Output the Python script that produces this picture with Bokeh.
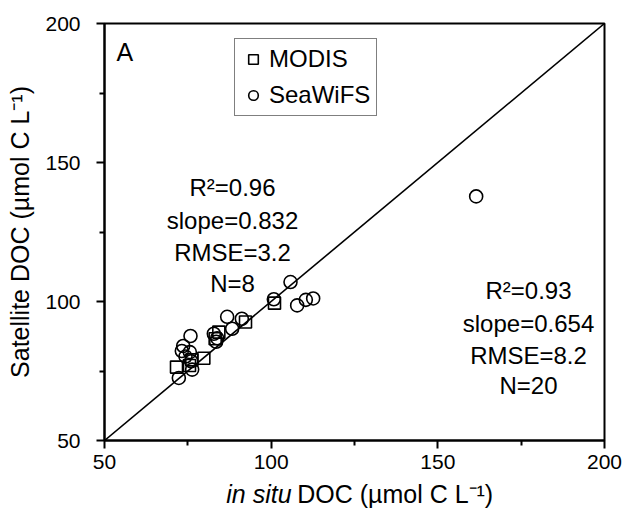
from bokeh.plotting import figure
from bokeh.layouts import column
from bokeh.models import FixedTicker, Label, Legend, LegendItem, Range1d
from bokeh.embed import file_html
from bokeh.resources import INLINE

# In situ vs satellite-derived DOC (umol C L-1)
modis_insitu = [71.6, 75.5, 76.2, 79.8, 83.2, 84.3, 92.3, 101.0]
modis_sat = [76.4, 77.0, 79.0, 79.6, 86.6, 89.0, 92.6, 99.4]

seawifs_insitu = [161.5, 105.8, 100.8, 107.8, 110.4, 112.6, 86.8, 91.2, 88.3, 83.8,
                  82.8, 75.8, 73.6, 73.2, 75.6, 74.3, 76.3, 72.3, 83.5, 76.0]
seawifs_sat = [137.8, 107.0, 100.8, 98.6, 100.6, 101.1, 94.5, 93.8, 90.2, 86.8,
               88.4, 87.6, 84.0, 82.2, 81.8, 80.2, 75.5, 72.5, 85.5, 78.5]

one_to_one = [50, 200]
major_ticks = [50, 100, 150, 200]
minor_ticks = [75, 125, 175]

modis_stats = ["R\u00b2=0.96", "slope=0.832", "RMSE=3.2", "N=8"]
seawifs_stats = ["R\u00b2=0.93", "slope=0.654", "RMSE=8.2", "N=20"]

x_title_italic = "in situ"
x_title_rest = "DOC (\u00b5mol C L\u207b\u00b9)"

FONT = "Liberation Sans"

p = figure(width=628, height=481, output_backend="svg", toolbar_location=None,
           x_range=Range1d(50, 200), y_range=Range1d(50, 200),
           min_border_left=104, min_border_right=24, min_border_top=23,
           min_border_bottom=41)
p.background_fill_color = "white"
p.border_fill_color = "white"
p.xgrid.visible = False
p.ygrid.visible = False
p.outline_line_color = "black"
p.outline_line_width = 2

for ax in (p.xaxis[0], p.yaxis[0]):
    ax.ticker = FixedTicker(ticks=major_ticks, minor_ticks=minor_ticks)
    ax.axis_line_width = 2
    ax.major_tick_line_width = 2
    ax.minor_tick_line_width = 2
    ax.major_tick_out = 8
    ax.major_tick_in = 0
    ax.minor_tick_out = 5
    ax.minor_tick_in = 0
    ax.major_label_text_font = FONT
    ax.major_label_text_font_size = "21px"
    ax.major_label_text_color = "black"

p.xaxis.major_label_standoff = 6
p.yaxis.major_label_standoff = 16

p.yaxis.axis_label = "Satellite DOC (\u00b5mol C L\u207b\u00b9)"
p.yaxis.axis_label_text_font = FONT
p.yaxis.axis_label_text_font_size = "25px"
p.yaxis.axis_label_text_font_style = "normal"
p.yaxis.axis_label_text_color = "black"
p.yaxis.axis_label_standoff = 8

# 1:1 line
p.line(one_to_one, one_to_one, line_color="black", line_width=1.6)

r_seawifs = p.scatter(seawifs_insitu, seawifs_sat, marker="circle", size=13,
                      fill_color=None, line_color="black", line_width=1.6)
r_modis = p.scatter(modis_insitu, modis_sat, marker="square", size=12,
                    fill_color=None, line_color="black", line_width=1.6)

legend = Legend(items=[LegendItem(label="MODIS", renderers=[r_modis]),
                       LegendItem(label="SeaWiFS", renderers=[r_seawifs])],
                location=(130, 324))
legend.label_text_font = FONT
legend.label_text_font_size = "24px"
legend.label_text_color = "black"
legend.border_line_color = "black"
legend.border_line_width = 1.2
legend.padding = 6
legend.spacing = 8
legend.glyph_width = 24
legend.glyph_height = 26
legend.label_standoff = 4
legend.margin = 0
p.add_layout(legend)


def add_text(fig, x, y, txt, size="24px", align="center", style="normal"):
    fig.add_layout(Label(x=x, y=y, text=txt, text_font=FONT, text_font_size=size,
                         text_font_style=style, text_color="black",
                         text_align=align, text_baseline="middle"))


# panel letter
add_text(p, 53.6, 189.6, "A", size="25px", align="left")

# regression statistics
for txt, yy in zip(modis_stats, [141.0, 129.1, 117.6, 106.5]):
    add_text(p, 88.4, yy, txt)
for txt, yy in zip(seawifs_stats, [104.0, 92.1, 80.6, 69.8]):
    add_text(p, 177.2, yy, txt)

# strip under the plot holding the x-axis title (italic "in situ")
t = figure(width=628, height=42, output_backend="svg", toolbar_location=None,
           x_range=Range1d(0, 628), y_range=Range1d(0, 42),
           min_border=0, min_border_left=0, min_border_right=0,
           min_border_top=0, min_border_bottom=0)
t.axis.visible = False
t.xgrid.visible = False
t.ygrid.visible = False
t.outline_line_color = None
t.background_fill_color = "white"
t.border_fill_color = "white"
add_text(t, 235, 30, x_title_italic, size="25px", align="right", style="italic")
add_text(t, 242, 30, x_title_rest, size="25px", align="left")

layout = column(p, t, spacing=0)
open("out.html", "w").write(file_html(layout, INLINE))
